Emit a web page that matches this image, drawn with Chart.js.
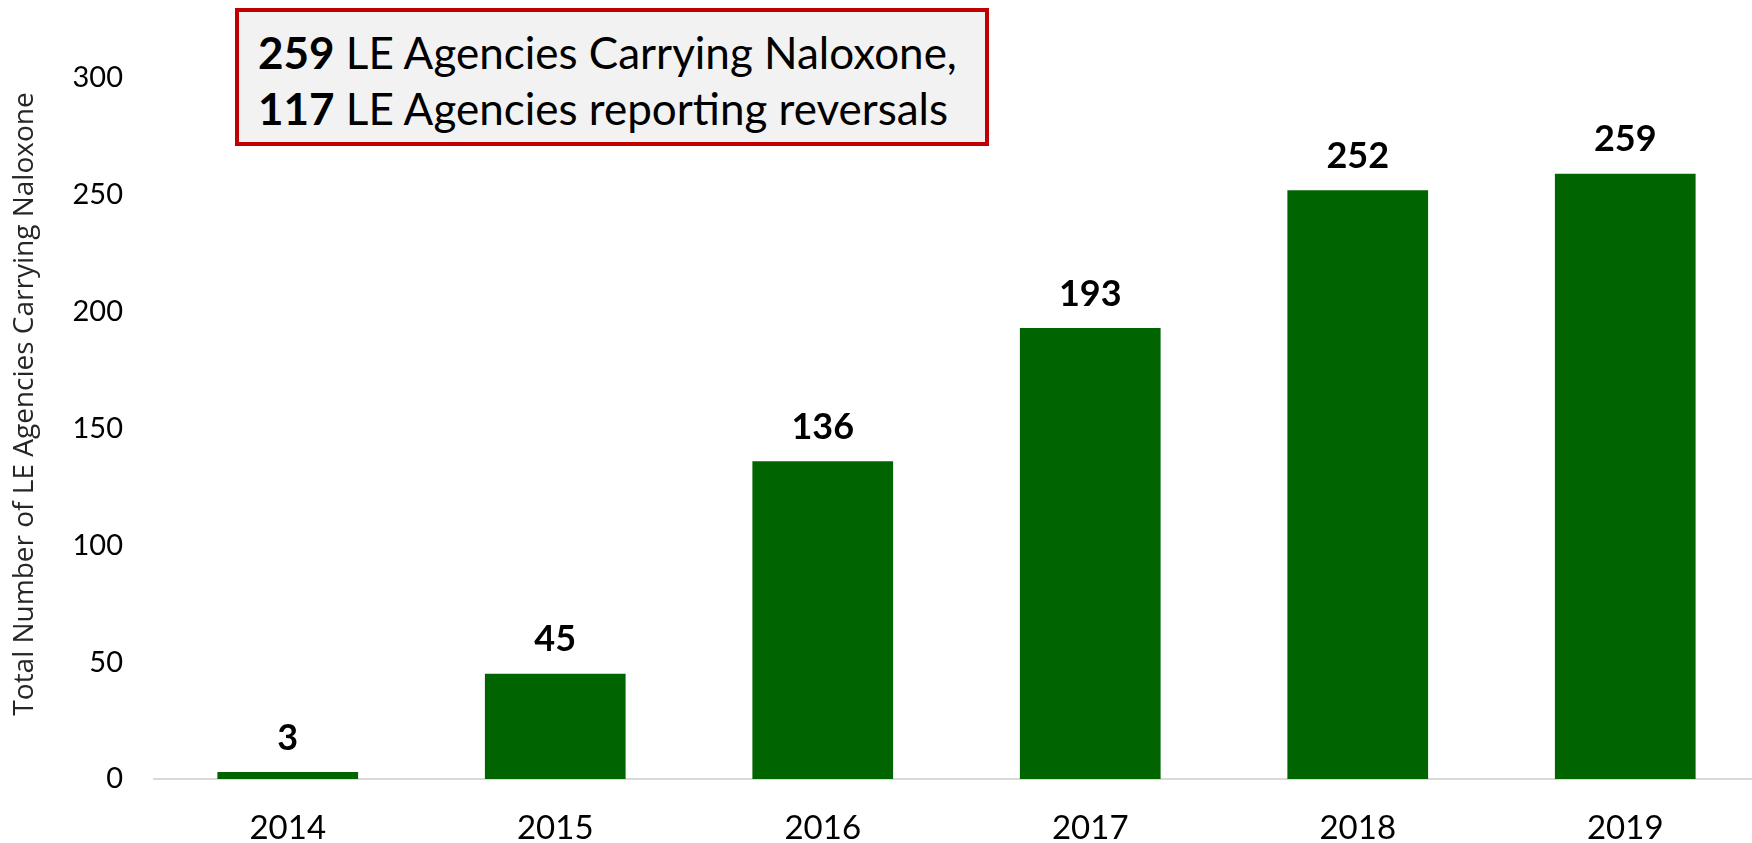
<!DOCTYPE html>
<html>
<head>
<meta charset="utf-8">
<script src="https://cdn.jsdelivr.net/npm/chart.js@4.4.1/dist/chart.umd.min.js"></script>
<style>
  html, body { margin: 0; padding: 0; background: #fff; overflow: hidden; }
  #wrap { position: relative; width: 1752px; height: 843px; overflow: hidden; }
  #note {
    position: absolute; left: 235px; top: 8px; width: 754px; height: 138px;
    box-sizing: border-box; border: 4px solid #C00000; background: #F2F2F2;
    font-family: Lato, sans-serif;
    font-size: 44px; line-height: 56px; padding: 12px 0 0 19px; color: #000;
    white-space: nowrap;
  }
  #note b { font-weight: bold; }
</style>
</head>
<body>
<div id="wrap">
  <!-- plot runs slightly past the right edge in the original, so the canvas is a bit wider -->
  <canvas id="chart" width="1759" height="843"></canvas>
  <div id="note"><b>259</b> LE Agencies Carrying Naloxone,<br><b>117</b> LE Agencies reporting reversals</div>
</div>
<script>
const years = ['2014', '2015', '2016', '2017', '2018', '2019']
const agencies = [3, 45, 136, 193, 252, 259]
const yTicks = [0, 50, 100, 150, 200, 250, 300]
const yTitle = 'Total Number of LE Agencies Carrying Naloxone'

// value labels above each bar
const barLabels = {
  id: 'barLabels',
  afterDatasetsDraw(chart) {
    const ctx = chart.ctx
    const meta = chart.getDatasetMeta(0)
    ctx.save()
    ctx.font = 'bold 36px Lato, sans-serif'
    ctx.fillStyle = '#000'
    ctx.textAlign = 'center'
    ctx.textBaseline = 'middle'
    meta.data.forEach((bar, i) => {
      ctx.fillText(agencies[i], bar.x, bar.y - 34)
    })
    ctx.restore()
  }
}

// axis title sits a little above the plot's middle, so draw it by hand
const axisTitle = {
  id: 'axisTitle',
  afterDraw(chart) {
    const ctx = chart.ctx
    ctx.save()
    ctx.translate(25, 404)
    ctx.rotate(-Math.PI / 2)
    ctx.font = "28px 'Open Sans', sans-serif"
    ctx.fillStyle = '#262626'
    ctx.textAlign = 'center'
    ctx.textBaseline = 'middle'
    ctx.fillText(yTitle, 0, 0)
    ctx.restore()
  }
}

new Chart(document.getElementById('chart'), {
  type: 'bar',
  data: {
    labels: years,
    datasets: [{
      data: agencies,
      backgroundColor: '#006400',
      barPercentage: 0.526,
      categoryPercentage: 1
    }]
  },
  options: {
    responsive: false,
    animation: false,
    layout: { padding: { top: 78, right: 0, left: 0, bottom: 0 } },
    plugins: {
      legend: { display: false },
      tooltip: { enabled: false }
    },
    scales: {
      x: {
        grid: { display: false },
        border: { color: '#D9D9D9', width: 2 },
        ticks: {
          color: '#000',
          font: { family: 'Lato', size: 33 },
          padding: 22
        },
        afterFit: scale => { scale.height = 64 }
      },
      y: {
        min: 0,
        max: 300,
        afterBuildTicks: scale => { scale.ticks = yTicks.map(v => ({ value: v })) },
        grid: { display: false, drawTicks: false },
        border: { display: false },
        ticks: {
          color: '#000',
          font: { family: 'Lato', size: 29 },
          padding: 31
        },
        afterFit: scale => { scale.width = 154 }
      }
    }
  },
  plugins: [barLabels, axisTitle]
})
</script>
</body>
</html>
